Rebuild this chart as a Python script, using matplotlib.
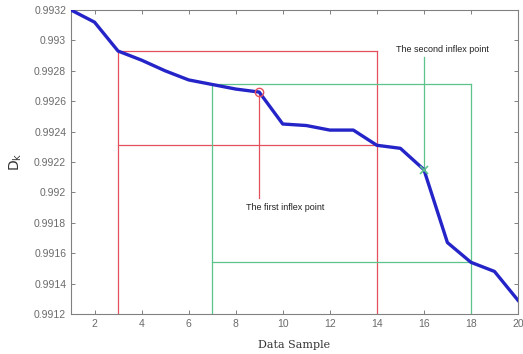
import numpy as np
import matplotlib.pyplot as plt
from matplotlib.ticker import FuncFormatter

# distance curve D_k over the data samples
samples = np.arange(1, 21)
dk = [0.99320, 0.99312, 0.99293, 0.99287, 0.99280, 0.99274, 0.99271, 0.99268,
      0.99266, 0.99245, 0.99244, 0.99241, 0.99241, 0.99231, 0.99229, 0.99215,
      0.99167, 0.99154, 0.99148, 0.99129]

# boxes around the two inflex regions: (x_left, x_right, y_low, y_high)
red_box = (3, 14, 0.99231, 0.99293)
green_box = (7, 18, 0.99154, 0.99271)
first_idx = 8    # sample 9
second_idx = 15  # sample 16

y_bottom, y_top = 0.9912, 0.9932

fig = plt.figure(figsize=(5.23, 3.54), dpi=100)
ax = fig.add_axes([71 / 523, 40 / 354, 447 / 523, 304 / 354])

red = '#e5505e'
green = '#5cc48a'

# red region: verticals drop to the x axis, horizontals span the box
x0, x1, ylo, yhi = red_box
ax.plot([x0, x0], [y_bottom, yhi], color=red, lw=0.9)
ax.plot([x1, x1], [y_bottom, yhi], color=red, lw=0.9)
ax.plot([x0, x1], [yhi, yhi], color=red, lw=0.9)
ax.plot([x0, x1], [ylo, ylo], color=red, lw=0.9)

x0, x1, ylo, yhi = green_box
ax.plot([x0, x0], [y_bottom, yhi], color=green, lw=0.9)
ax.plot([x1, x1], [y_bottom, yhi], color=green, lw=0.9)
ax.plot([x0, x1], [yhi, yhi], color=green, lw=0.9)
ax.plot([x0, x1], [ylo, ylo], color=green, lw=0.9)

ax.plot(samples, dk, color='#2424c8', lw=2.4, zorder=5)

# inflex point markers and pointer lines
ax.plot(samples[first_idx], dk[first_idx], 'o', mfc='none', mec=red, ms=6, mew=1, zorder=6)
ax.plot([samples[first_idx]] * 2, [0.99196, dk[first_idx]], color=red, lw=0.9)
ax.text(8.45, 0.99190, 'The first inflex point', fontsize=6.5, family='Liberation Sans',
        va='center', ha='left', color='#222222')

ax.plot(samples[second_idx], dk[second_idx], 'x', color=green, ms=6, mew=1.2, zorder=6)
ax.plot([samples[second_idx]] * 2, [dk[second_idx], 0.99289], color=green, lw=0.9)
ax.text(14.8, 0.99294, 'The second inflex point', fontsize=6.5, family='Liberation Sans',
        va='center', ha='left', color='#222222')

ax.set_xlim(1, 20)
ax.set_ylim(y_bottom, y_top)
ax.set_xticks(np.arange(2, 21, 2))
ax.set_yticks(np.arange(0.9912, 0.99321, 0.0002))
ax.yaxis.set_major_formatter(FuncFormatter(lambda v, p: f'{v:.4f}'.rstrip('0')))

ax.tick_params(direction='in', top=True, right=True, length=3, width=0.7,
               colors='#808080', labelcolor='#6a6a6a', labelsize=7.5)
for lab in ax.get_xticklabels() + ax.get_yticklabels():
    lab.set_family('Liberation Sans')
for s in ax.spines.values():
    s.set_color('#808080')
    s.set_linewidth(0.8)

ax.set_xlabel('Data Sample', family='DejaVu Serif', fontsize=8, color='#333333', labelpad=8)
ax.set_ylabel(r'$\mathrm{D_k}$', family='DejaVu Serif', fontsize=10, color='#333333', labelpad=7)

fig.savefig('out.png', dpi=100)
